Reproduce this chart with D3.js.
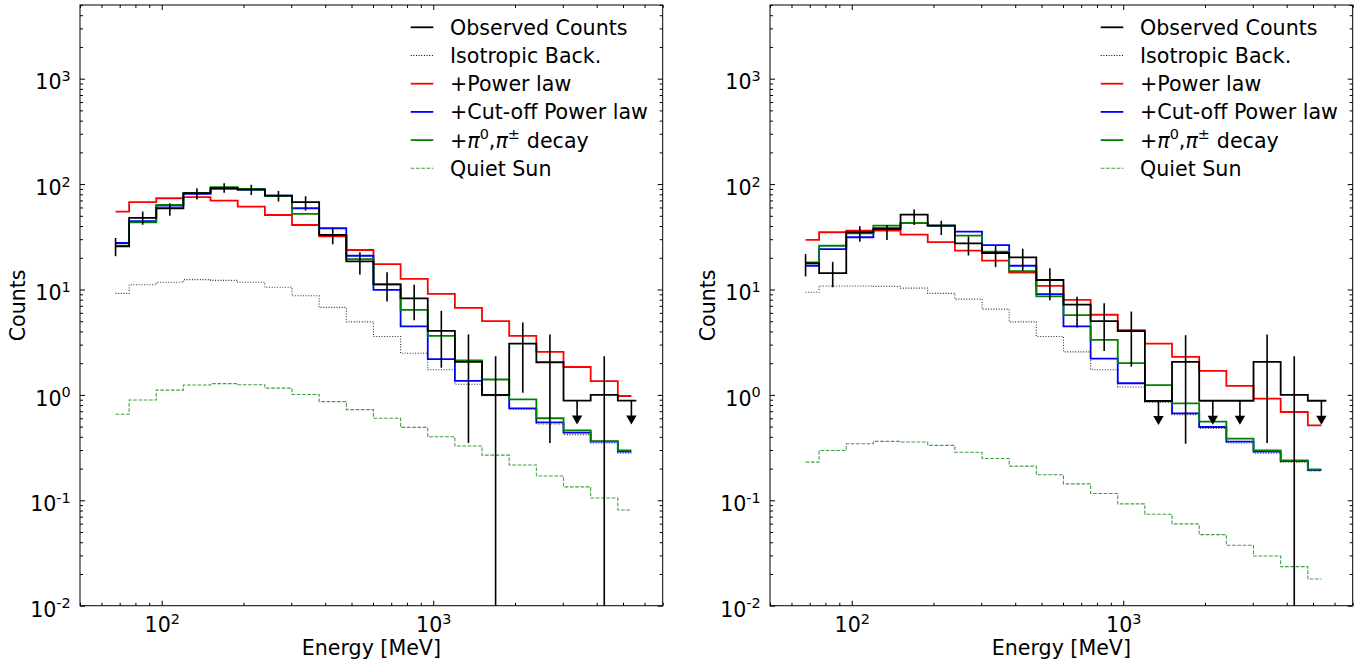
<!DOCTYPE html>
<html><head><meta charset="utf-8">
<script src="https://cdn.jsdelivr.net/npm/d3@7"></script>
<style>
body{margin:0;background:#fff}
svg{display:block}
text{font-family:"DejaVu Sans",sans-serif;fill:#000}
</style>
</head><body>
<svg id="chart" width="1371" height="664"></svg>
<script>
// ---- bins (centres of 0.1-decade energy bins, MeV)
const energyMeV = [67.6, 85.1, 107.1, 134.8, 169.8, 213.7, 269.1, 338.7, 426.4, 536.8,
                   675.8, 850.7, 1071, 1348, 1697, 2137, 2690, 3387, 4264, 5368];

// ---- left panel
const leftObserved   = [25.7, 47.7, 59.0, 81.9, 91.4, 88.7, 77.8, 67.3, 32.9, 18.5,
                        11.2, 8.22, 4.05, 2.06, 1.0, 3.07, 2.04, 0.883, 1.0, 0.883];
const leftObsErrHigh = [30.8, 54.8, 65.8, 91.4, 102, 98.3, 86.1, 76.6, 38.7, 22.6,
                        14.6, 11.1, 6.27, 3.75, 2.33, 4.86, 3.75, null, 2.33, null];
const leftObsErrLow  = [20.7, 41.1, 50.1, 71.3, 82.6, 78.9, 68.2, 56.0, 26.9, 13.9,
                        7.69, 5.11, 1.81, 0.350, 0, 1.05, 0.350, null, 0, null];
const leftUpperLimits = [17, 19];
const leftIsotropic  = [9.19, 11.1, 11.7, 12.4, 12.2, 11.7, 10.5, 8.72, 6.76, 4.93,
                        3.58, 2.48, 1.73, 1.26, 0.985, 0.73, 0.53, 0.42, 0.35, 0.28];
const leftPowerLaw   = [54.8, 67.3, 73.4, 75.1, 69.7, 61.1, 50.9, 40.9, 32.0, 23.7,
                        17.4, 12.6, 9.10, 6.70, 5.01, 3.63, 2.56, 1.84, 1.35, 0.976];
const leftCutoffPL   = [27.6, 44.4, 62.5, 80.7, 90.0, 88.6, 77.8, 59.0, 38.1, 20.9,
                        9.93, 4.46, 2.18, 1.36, 1.00, 0.746, 0.549, 0.438, 0.360, 0.289];
const leftPionDecay  = [26.0, 43.4, 63.4, 82.4, 93.3, 90.0, 76.8, 52.1, 32.9, 19.4,
                        11.2, 6.41, 3.63, 2.13, 1.40, 0.908, 0.600, 0.460, 0.365, 0.297];
const leftQuietSun   = [0.655, 0.894, 1.11, 1.24, 1.28, 1.25, 1.16, 1.01, 0.863, 0.724,
                        0.600, 0.492, 0.401, 0.327, 0.268, 0.216, 0.170, 0.134, 0.105, 0.081];

// ---- right panel
const rightObserved   = [17.7, 14.3, 34.9, 37.5, 51.3, 40.4, 27.4, 22.2, 20.2, 12.3,
                         7.17, 5.01, 4.03, 0.875, 2.06, 0.88, 0.88, 2.06, 1.0, 0.88];
const rightObsErrHigh = [21.7, 18.3, 39.9, 40.8, 57.5, 44.9, 31.9, 25.8, 24.4, 15.9,
                         8.55, 7.40, 6.17, null, 3.68, null, null, 3.75, 2.33, null];
const rightObsErrLow  = [13.3, 10.5, 28.3, 29.4, 40.8, 32.8, 21.0, 16.3, 15.1, 7.91,
                         4.36, 2.61, 1.85, null, 0.344, null, null, 0.350, 0, null];
const rightUpperLimits = [13, 15, 16, 19];
const rightIsotropic  = [9.40, 10.8, 10.8, 10.7, 10.3, 9.19, 8.11, 6.51, 4.93, 3.58,
                         2.56, 1.73, 1.19, 0.85, 0.65, 0.48, 0.35, 0.28, 0.23, 0.19];
const rightPowerLaw   = [29.5, 34.9, 36.2, 36.2, 33.1, 28.2, 23.4, 18.8, 14.5, 10.8,
                         7.98, 5.76, 4.11, 3.07, 2.29, 1.69, 1.22, 0.922, 0.688, 0.514];
const rightCutoffPL   = [16.8, 24.2, 31.3, 38.1, 42.8, 40.3, 35.4, 26.4, 16.8, 9.04,
                         4.46, 2.21, 1.29, 0.875, 0.668, 0.496, 0.360, 0.289, 0.236, 0.193];
const rightPionDecay  = [18.1, 26.0, 34.1, 40.3, 42.8, 40.3, 32.4, 22.8, 14.9, 8.59,
                         5.72, 3.33, 2.00, 1.24, 0.832, 0.557, 0.384, 0.297, 0.239, 0.196];
const rightQuietSun   = [0.230, 0.297, 0.344, 0.362, 0.357, 0.332, 0.286, 0.249, 0.211, 0.175,
                         0.143, 0.116, 0.0925, 0.0738, 0.0597, 0.0472, 0.0374, 0.0296, 0.0235, 0.0179];

// ---- axes / text
const xDomain = [50, 7000];
const yDomain = [0.01, 5000];
const xMajorTicks = [100, 1000];
const xMajorExp = ["2", "3"];
const yMajorTicks = [0.01, 0.1, 1, 10, 100, 1000];
const yMajorExp = ["-2", "-1", "0", "1", "2", "3"];
const xLabel = "Energy [MeV]";
const yLabel = "Counts";
const legendLabels = ["Observed Counts", "Isotropic Back.", "+Power law", "+Cut-off Power law", "PION", "Quiet Sun"];

// ---- layout / styles
const W = 582.7, TOP = 5, BOTTOM = 605.7;
const FS = 20.6, TFS = 20.6;
const LW = 1.8;
const svg = d3.select("#chart");

function minorTicks(lo, hi) {
  const out = [];
  for (let d = Math.floor(Math.log10(lo)); d <= Math.ceil(Math.log10(hi)); d++) {
    for (let m = 2; m <= 9; m++) {
      const v = m * Math.pow(10, d);
      if (v >= lo * 0.999 && v <= hi * 1.001) out.push(v);
    }
  }
  return out;
}

function superLabel(sel, exps) {
  sel.each(function(d, i) {
    const t = d3.select(this);
    t.text(null);
    t.append("tspan").text("10");
    t.append("tspan").attr("font-size", 14.4).attr("dy", "-0.58em").text(exps[i]);
  });
}

function drawPanel(x0, s) {
  const x = d3.scaleLog().domain(xDomain).range([x0, x0 + W]);
  const y = d3.scaleLog().domain(yDomain).range([BOTTOM, TOP]);
  const g = svg.append("g");
  const clipId = "clip" + x0;
  g.append("clipPath").attr("id", clipId).append("rect")
    .attr("x", x0).attr("y", TOP).attr("width", W).attr("height", BOTTOM - TOP);
  const plot = g.append("g").attr("clip-path", `url(#${clipId})`);

  const yc = v => y(Math.max(v, yDomain[0] * 0.5));
  const stepLine = d3.line().x((d, i) => x(energyMeV[i])).y(d => yc(d)).curve(d3.curveStep);

  function drawStep(vals, color, width, dash, opacity) {
    plot.append("path").attr("d", stepLine(vals))
      .attr("fill", "none").attr("stroke", color).attr("stroke-width", width)
      .attr("stroke-dasharray", dash || null).attr("stroke-opacity", opacity || 1);
  }
  drawStep(s.quiet, "#008000", 1.1, "3.7,1.6", 0.75);
  drawStep(s.iso, "#000", 1.1, "1,1.65", 0.8);
  drawStep(s.power, "#ff0000", LW);
  drawStep(s.cutoff, "#0000ff", LW);
  drawStep(s.pion, "#008000", LW);
  // observed
  plot.append("path").attr("d", stepLine(s.obs) + "h5")
    .attr("fill", "none").attr("stroke", "#000").attr("stroke-width", LW);
  // error bars
  s.obs.forEach((v, i) => {
    if (s.hi[i] == null) return;
    plot.append("line")
      .attr("x1", x(energyMeV[i])).attr("x2", x(energyMeV[i]))
      .attr("y1", y(s.hi[i])).attr("y2", yc(s.lo[i]))
      .attr("stroke", "#000").attr("stroke-width", 1.6);
  });
  // upper limits
  s.ul.forEach(i => {
    const cx = x(energyMeV[i]), cy = y(s.obs[i]);
    plot.append("line").attr("x1", cx).attr("x2", cx).attr("y1", cy).attr("y2", cy + 17)
      .attr("stroke", "#000").attr("stroke-width", 1.6);
    plot.append("path").attr("d", `M${cx - 5.2},${cy + 15}L${cx + 5.2},${cy + 15}L${cx},${cy + 24}Z`)
      .attr("fill", "#000");
  });

  // axes
  const xMinor = minorTicks(xDomain[0], xDomain[1]).filter(v => !xMajorTicks.includes(v));
  const yMinor = minorTicks(yDomain[0], yDomain[1]).filter(v => !yMajorTicks.includes(v));
  const axStyle = a => a.select(".domain").remove();
  const bottomMaj = g.append("g").attr("transform", `translate(0,${BOTTOM})`)
    .call(d3.axisBottom(x).tickValues(xMajorTicks).tickSize(-5).tickSizeOuter(0).tickPadding(12));
  axStyle(bottomMaj);
  bottomMaj.selectAll("text").attr("font-size", TFS).attr("font-family", "DejaVu Sans");
  superLabel(bottomMaj.selectAll(".tick text"), xMajorExp);
  g.append("g").attr("transform", `translate(0,${BOTTOM})`)
    .call(d3.axisBottom(x).tickValues(xMinor).tickSize(-3).tickFormat("")).call(axStyle);
  g.append("g").attr("transform", `translate(0,${TOP})`)
    .call(d3.axisTop(x).tickValues(xMajorTicks).tickSize(-5).tickFormat("")).call(axStyle);
  g.append("g").attr("transform", `translate(0,${TOP})`)
    .call(d3.axisTop(x).tickValues(xMinor).tickSize(-3).tickFormat("")).call(axStyle);

  const leftMaj = g.append("g").attr("transform", `translate(${x0},0)`)
    .call(d3.axisLeft(y).tickValues(yMajorTicks).tickSize(-5).tickSizeOuter(0).tickPadding(9.3));
  axStyle(leftMaj);
  leftMaj.selectAll("text").attr("font-size", TFS).attr("font-family", "DejaVu Sans").attr("dy", "0.5em");
  superLabel(leftMaj.selectAll(".tick text"), yMajorExp);
  g.append("g").attr("transform", `translate(${x0},0)`)
    .call(d3.axisLeft(y).tickValues(yMinor).tickSize(-3).tickFormat("")).call(axStyle);
  g.append("g").attr("transform", `translate(${x0 + W},0)`)
    .call(d3.axisRight(y).tickValues(yMajorTicks).tickSize(-5).tickFormat("")).call(axStyle);
  g.append("g").attr("transform", `translate(${x0 + W},0)`)
    .call(d3.axisRight(y).tickValues(yMinor).tickSize(-3).tickFormat("")).call(axStyle);
  g.selectAll(".tick line").attr("stroke", "#000").attr("stroke-width", 1);

  g.append("rect").attr("x", x0).attr("y", TOP).attr("width", W).attr("height", BOTTOM - TOP)
    .attr("fill", "none").attr("stroke", "#000").attr("stroke-width", 1);

  // axis labels
  g.append("text").attr("x", x0 + W / 2).attr("y", 655).attr("text-anchor", "middle")
    .attr("font-size", FS).text(xLabel);
  g.append("text").attr("transform", `translate(${x0 - 55},${(TOP + BOTTOM) / 2}) rotate(-90)`)
    .attr("text-anchor", "middle").attr("font-size", FS).text(yLabel);

  // legend
  const styles = [
    {c: "#000", w: LW}, {c: "#000", w: 1.1, d: "1,1.65"}, {c: "#ff0000", w: LW},
    {c: "#0000ff", w: LW}, {c: "#008000", w: LW}, {c: "#008000", w: 1.1, d: "3.7,1.6", o: 0.75}
  ];
  legendLabels.forEach((lab, i) => {
    const ly = 27.3 + i * 28.2;
    const st = styles[i];
    g.append("line").attr("x1", x0 + 330.7).attr("x2", x0 + 353.3).attr("y1", ly).attr("y2", ly)
      .attr("stroke", st.c).attr("stroke-width", st.w).attr("stroke-dasharray", st.d || null)
      .attr("stroke-opacity", st.o || 1);
    const t = g.append("text").attr("x", x0 + 370).attr("y", ly + 7.5).attr("font-size", FS);
    if (lab === "PION") {
      t.append("tspan").text("+");
      t.append("tspan").attr("font-style", "italic").text("π");
      t.append("tspan").attr("font-size", 14.4).attr("dy", -8.5).text("0");
      t.append("tspan").attr("dy", 8.5).text(",");
      t.append("tspan").attr("font-style", "italic").text("π");
      t.append("tspan").attr("font-size", 14.4).attr("dy", -8.5).text("±");
      t.append("tspan").attr("dy", 8.5).attr("dx", 7).text("decay");
    } else {
      t.text(lab);
    }
  });
}

drawPanel(80, {obs: leftObserved, hi: leftObsErrHigh, lo: leftObsErrLow, ul: leftUpperLimits,
  iso: leftIsotropic, power: leftPowerLaw, cutoff: leftCutoffPL, pion: leftPionDecay, quiet: leftQuietSun});
drawPanel(770, {obs: rightObserved, hi: rightObsErrHigh, lo: rightObsErrLow, ul: rightUpperLimits,
  iso: rightIsotropic, power: rightPowerLaw, cutoff: rightCutoffPL, pion: rightPionDecay, quiet: rightQuietSun});
</script>
</body></html>
